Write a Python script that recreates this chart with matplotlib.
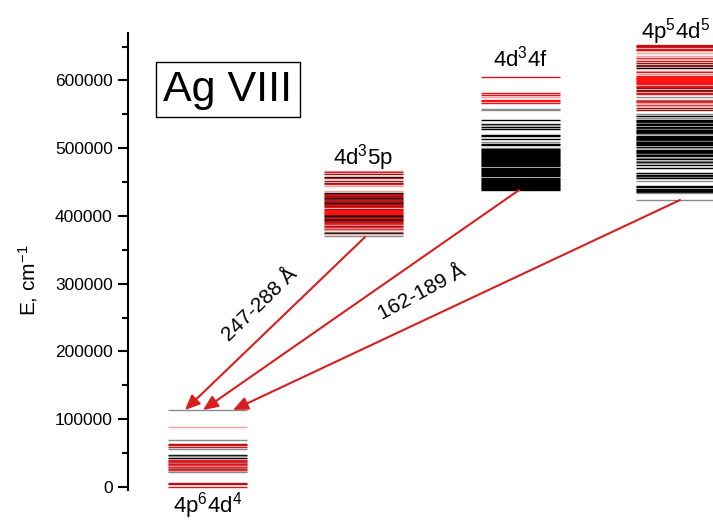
import matplotlib
matplotlib.use('Agg')
import matplotlib.pyplot as plt

plt.rcParams['font.family'] = ['Liberation Sans', 'DejaVu Sans']
plt.rcParams['mathtext.default'] = 'regular'

# configurations: label, level energies (cm-1), colour code per level
config_labels = ['4p$^6$4d$^4$', '4d$^3$5p', '4d$^3$4f', '4p$^5$4d$^5$']

e_4p6_4d4 = [114000, 88000, 69500, 64000, 62500, 59500, 55500, 47000, 45500, 43500,
             40500, 39000, 37500, 36000, 34500, 33000, 31500, 30000, 28500, 27000,
             25500, 24000, 22000, 5500, 4000, 500]
c_4p6_4d4 = ['g', 'p', 'g', 'd', 'r', 'r', 'g', 'k', 'g', 'k',
             'r', 'r', 'R', 'g', 'r', 'r', 'p', 'r', 'g', 'r',
             'r', 'p', 'g', 'r', 'd', 'r']

e_4d3_5p = [467000, 465000, 462000, 458000, 455500, 451000, 449000, 446500, 443500,
            436500, 434000, 432000, 430500, 429000, 427500, 426000, 424500, 423000,
            421500, 420000, 418500, 417000, 415500, 414000, 412500, 411000, 409500,
            408000, 406500, 405000, 403500, 402000, 400500, 399000, 397500, 396000,
            394500, 393000, 391500, 390000, 388500, 387000, 385500, 384000, 382500,
            381000, 379000, 377000, 375000, 373000, 370500]
c_4d3_5p = ['p', 'r', 'd', 'k', 'r', 'd', 'd', 'r', 'p',
            'p', 'k', 'd', 'r', 'd', 'r', 'k', 'd', 'r',
            'd', 'r', 'k', 'd', 'r', 'd', 'R', 'd', 'R',
            'R', 'R', 'R', 'R', 'd', 'k', 'd', 'r', 'd',
            'k', 'r', 'd', 'R', 'r', 'p', 'd', 'r', 'p',
            'r', 'p', 'g', 'k', 'p', 'g']

e_4d3_4f = [604500, 582000, 578500, 575000, 571000, 569000, 567000, 558000, 557000,
            541500, 535500, 533500, 531000, 528500, 520000, 518000, 514000, 509500,
            506500, 504500, 500000, 498500, 497000, 495500, 494000, 492500, 491000,
            489500, 488000, 486500, 485000, 483500, 482000, 480500, 479000, 477500,
            476000, 474500, 473000, 471500, 470000, 468500, 467000, 465500, 464000,
            462500, 461000, 459500, 456500, 455000, 453500, 452000, 450500, 449000,
            447500, 446000, 444500, 443000, 441500, 440000, 438500]
c_4d3_4f = ['r', 'r', 'r', 'p', 'R', 'R', 'r', 'g', 'g',
            'k', 'k', 'g', 'k', 'k', 'k', 'k', 'k', 'g',
            'k', 'k', 'g'] + ['k'] * 40

e_4p5_4d5 = [652500, 650500, 649000, 647000, 645000, 643000, 640000, 636500, 633000,
             631000, 628500, 625500, 623500, 621000, 618000, 614000, 612000, 609000,
             606000, 604500, 603000, 601500, 600000, 598500, 597000, 595500, 594000,
             592500, 591000, 588500, 586500, 584500, 582000, 579500, 576000, 571500,
             569000, 567500, 566000, 564000, 562000, 559000, 557000, 551000, 547000,
             545000, 542000, 539500, 538000, 536500, 535000, 533500, 532000, 530500,
             529000, 527500, 526000, 524500, 523000, 521500, 517500, 516000, 514500,
             513000, 511500, 510000, 508500, 507000, 505500, 504000, 502500, 500000,
             497500, 496000, 494500, 493000, 491500, 490000, 488000, 485500, 483500,
             481500, 479500, 477500, 475500, 471500, 463000, 461000, 459000, 457000,
             455500, 452000, 443500, 442000, 440500, 439000, 437500, 436000, 434000,
             424000]
c_4p5_4d5 = ['r', 'd', 'r', 'R', 'd', 'p', 'p', 'p', 'r',
             'p', 'r', 'd', 'd', 'd', 'k', 'p', 'r', 'p',
             'R', 'R', 'R', 'R', 'R', 'R', 'R', 'r', 'R',
             'R', 'r', 'd', 'd', 'd', 'r', 'r', 'g', 'g',
             'r', 'R', 'p', 'r', 'p', 'd', 'd', 'g', 'k',
             'g', 'k', 'k', 'k', 'g', 'k', 'k', 'k', 'k',
             'g', 'k', 'k', 'k', 'k', 'g', 'k', 'k', 'k',
             'k', 'k', 'g', 'k', 'k', 'k', 'k', 'k', 'g',
             'k', 'k', 'k', 'k', 'g', 'k', 'k', 'g', 'k',
             'g', 'k', 'g', 'k', 'k', 'k', 'k', 'k', 'g',
             'k', 'g', 'k', 'k', 'k', 'k', 'k', 'k', 'g',
             'g']

levels = [(e_4p6_4d4, c_4p6_4d4), (e_4d3_5p, c_4d3_5p),
          (e_4d3_4f, c_4d3_4f), (e_4p5_4d5, c_4p5_4d5)]

# wavelength ranges written along the arrows
range_5p = '247-288 Å'
range_4p5 = '162-189 Å'

palette = {'k': '#000000', 'g': '#8a8a8a', 'r': '#e0141b', 'R': '#ff1212',
           'd': '#8a1515', 'p': '#f2a0a0'}
arrow_red = '#d81e1e'

centers = [0.795, 2.355, 3.92, 5.475]
half_w = 0.395

fig = plt.figure(figsize=(7.13, 5.2), dpi=100)
ax = fig.add_axes([128 / 713, 29.6 / 520, 585 / 713, 457.4 / 520])
ax.set_xlim(0, 5.85)
ax.set_ylim(-5000, 670000)

for xc, (energies, codes) in zip(centers, levels):
    ax.hlines(energies, xc - half_w, xc + half_w,
              colors=[palette[c] for c in codes], lw=1.0)

# configuration labels
lab_fs = 16
ax.text(centers[0], -38000, config_labels[0], ha='center', va='baseline', fontsize=lab_fs, clip_on=False)
ax.text(centers[1], 476000, config_labels[1], ha='center', va='baseline', fontsize=lab_fs)
ax.text(centers[2], 620000, config_labels[2], ha='center', va='baseline', fontsize=lab_fs)
ax.text(centers[3], 662500, config_labels[3], ha='center', va='baseline', fontsize=lab_fs, clip_on=False)

# arrows from bottom of upper configurations to ground configuration top
starts = [(2.37, 368900), (3.91, 438200), (5.52, 423500)]
tips = [(0.57, 113600), (0.75, 113600), (1.05, 113600)]
for (x0, y0), (x1, y1) in zip(starts, tips):
    ax.annotate('', xy=(x1, y1), xytext=(x0, y0),
                arrowprops=dict(arrowstyle='-|>,head_length=0.5,head_width=0.22',
                                color=arrow_red, lw=1.5,
                                mutation_scale=18, shrinkA=0, shrinkB=0))

ax.text(1.32, 268600, range_5p, rotation=44, ha='center', va='center', fontsize=15,
        rotation_mode='anchor')
ax.text(2.94, 286300, range_4p5, rotation=28, ha='center', va='center', fontsize=15,
        rotation_mode='anchor')

ax.text(1.0, 586500, 'Ag VIII', ha='center', va='center', fontsize=31,
        bbox=dict(boxstyle='square,pad=0.18', fc='white', ec='black', lw=1.0))

# axis styling
for s in ['top', 'right', 'bottom']:
    ax.spines[s].set_visible(False)
ax.spines['left'].set_linewidth(1.5)
ax.set_xticks([])
ax.set_yticks([0, 100000, 200000, 300000, 400000, 500000, 600000])
ax.set_yticks([50000, 150000, 250000, 350000, 450000, 550000, 650000], minor=True)
ax.tick_params(axis='y', which='major', length=7, width=1.5, labelsize=12.5, pad=4)
ax.tick_params(axis='y', which='minor', length=4, width=1.5)
ax.set_ylabel('E, cm$^{-1}$', fontsize=15)
ax.yaxis.set_label_coords(-0.15, 0.46)

fig.savefig('out.png', dpi=100)
